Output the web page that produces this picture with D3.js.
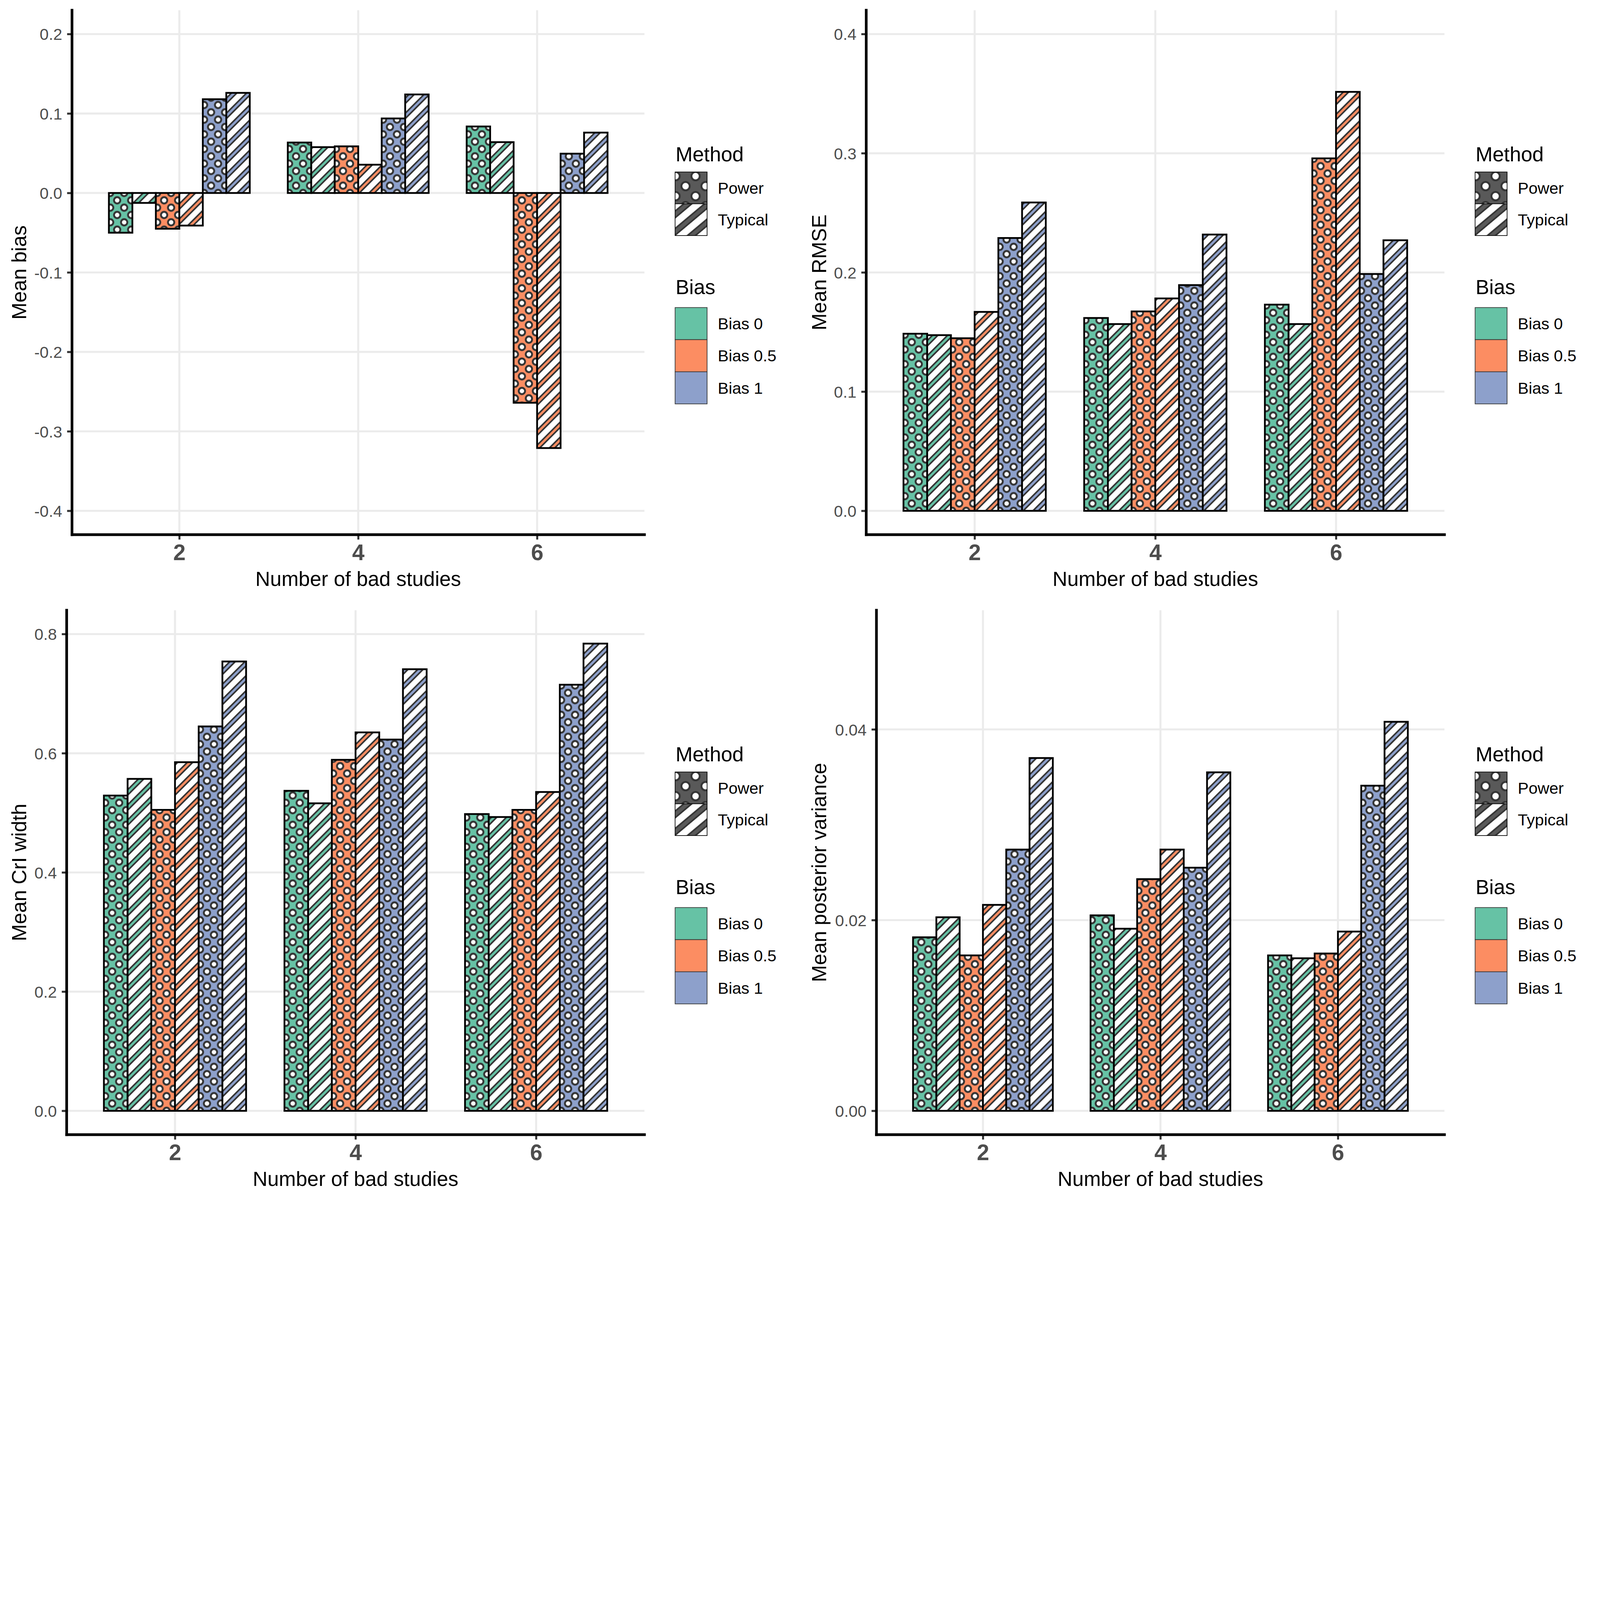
<!DOCTYPE html>
<html>
<head>
<meta charset="utf-8">
<script src="https://cdn.jsdelivr.net/npm/d3@7"></script>
<style>
  html, body { margin: 0; padding: 0; background: #fff; overflow: hidden; }
  svg { display: block; width: 100vw; height: 75vw; font-family: "Liberation Sans", Arial, sans-serif; }
</style>
</head>
<body>
<div id="chart"></div>
<script>
const badStudies = [2, 4, 6];
const biasLevels = ["Bias 0", "Bias 0.5", "Bias 1"];
const methods = ["Power", "Typical"];
const biasColours = ["#66C2A5", "#FC8D62", "#8DA0CB"];

// rows = bias level, columns = number of bad studies (2, 4, 6)
const biasPower = [[-0.050, 0.0635, 0.0837], [-0.045, 0.0587, -0.264], [0.118, 0.0938, 0.0495]];
const biasTypical = [[-0.0125, 0.0577, 0.064], [-0.041, 0.0356, -0.321], [0.126, 0.124, 0.076]];

const rmsePower = [[0.1486, 0.1618, 0.1730], [0.1448, 0.1673, 0.2957], [0.2289, 0.1894, 0.1987]];
const rmseTypical = [[0.1474, 0.1567, 0.1567], [0.1669, 0.1782, 0.3515], [0.2587, 0.2318, 0.2270]];

const criPower = [[0.529, 0.537, 0.498], [0.505, 0.589, 0.505], [0.645, 0.623, 0.715]];
const criTypical = [[0.557, 0.516, 0.493], [0.585, 0.635, 0.535], [0.754, 0.741, 0.784]];

const varPower = [[0.0182, 0.0205, 0.0163], [0.0163, 0.0243, 0.0165], [0.0274, 0.0255, 0.0341]];
const varTypical = [[0.0203, 0.0191, 0.0160], [0.0216, 0.0274, 0.0188], [0.0370, 0.0355, 0.0408]];

const yTitles = ["Mean bias", "Mean RMSE", "Mean CrI width", "Mean posterior variance"];
const yLimits = [[-0.4, 0.2], [0, 0.4], [0, 0.8], [0, 0.05]];
const yTicks = [
  [-0.4, -0.3, -0.2, -0.1, 0, 0.1, 0.2],
  [0, 0.1, 0.2, 0.3, 0.4],
  [0, 0.2, 0.4, 0.6, 0.8],
  [0, 0.02, 0.04]
];
const yTickLabels = [
  ["-0.4", "-0.3", "-0.2", "-0.1", "0.0", "0.1", "0.2"],
  ["0.0", "0.1", "0.2", "0.3", "0.4"],
  ["0.0", "0.2", "0.4", "0.6", "0.8"],
  ["0.00", "0.02", "0.04"]
];
const xTickLabels = ["2", "4", "6"];
const xTitle = "Number of bad studies";

const panels = [
  { power: biasPower, typical: biasTypical },
  { power: rmsePower, typical: rmseTypical },
  { power: criPower, typical: criTypical },
  { power: varPower, typical: varTypical }
];

// layout, in pixels of the 7200x5400 page
const cells = [[0, 0], [3600, 0], [0, 2700], [3600, 2700]];
const panelLeft = [324, 298, 300, 344];
const panelTop = 46, panelBottom = 2406, panelRight = 2900;
const xLimits = [0.8, 7.2];
const groupWidth = 1.575;
const barW = groupWidth / 6;

const svg = d3.select("#chart").append("svg")
  .attr("viewBox", "0 0 7200 5400")
  .attr("preserveAspectRatio", "xMinYMin meet");

svg.append("rect").attr("width", 7200).attr("height", 5400).attr("fill", "#fff");

const defs = svg.append("defs");

function dotPattern(id, bg, w, h, x, y, r) {
  const p = defs.append("pattern")
    .attr("id", id)
    .attr("patternUnits", "userSpaceOnUse")
    .attr("x", x).attr("y", y)
    .attr("width", w).attr("height", h);
  p.append("rect").attr("width", w).attr("height", h).attr("fill", bg);
  [[0, 0], [w, 0], [0, h], [w, h], [w / 2, h / 2]].forEach(c => {
    p.append("circle")
      .attr("cx", c[0]).attr("cy", c[1]).attr("r", r)
      .attr("fill", "#fff")
      .attr("stroke", "#333")
      .attr("stroke-width", 8.5);
  });
}

function stripePattern(id, bg, period, white, line, angle) {
  const p = defs.append("pattern")
    .attr("id", id)
    .attr("patternUnits", "userSpaceOnUse")
    .attr("width", period).attr("height", period)
    .attr("patternTransform", "rotate(" + (-angle) + ")");
  p.append("rect").attr("width", period).attr("height", period).attr("fill", bg);
  p.append("rect").attr("width", period).attr("height", white + 2 * line).attr("fill", "#333");
  p.append("rect").attr("y", line).attr("width", period).attr("height", white).attr("fill", "#fff");
}

biasColours.forEach((c, i) => {
  dotPattern("dots" + i, c, 63, 66, 5.75, 0, 14.25);
  stripePattern("stripes" + i, c, 48, 24, 7, 45);
});
dotPattern("keyDots", "#595959", 90, 90, 25, 27.7, 18.75);
stripePattern("keyStripes", "#595959", 60, 30, 7, 40);

function drawPanel(k) {
  const p = panels[k];
  const left = panelLeft[k];
  const g = svg.append("g").attr("transform", "translate(" + cells[k][0] + "," + cells[k][1] + ")");

  const lim = yLimits[k];
  const pad = (lim[1] - lim[0]) * 0.05;
  const y = d3.scaleLinear().domain([lim[0] - pad, lim[1] + pad]).range([panelBottom, panelTop]);
  const x = d3.scaleLinear().domain(xLimits).range([left, panelRight]);

  // grid
  g.append("g").selectAll("line").data(yTicks[k]).join("line")
    .attr("x1", left).attr("x2", panelRight)
    .attr("y1", d => y(d)).attr("y2", d => y(d))
    .attr("stroke", "#EBEBEB").attr("stroke-width", 9);
  g.append("g").selectAll("line").data(badStudies).join("line")
    .attr("x1", d => x(d)).attr("x2", d => x(d))
    .attr("y1", panelTop).attr("y2", panelBottom)
    .attr("stroke", "#EBEBEB").attr("stroke-width", 9);

  const bars = [];
  badStudies.forEach((n, gi) => {
    biasLevels.forEach((b, bi) => {
      methods.forEach((m, mi) => {
        bars.push({ n: n, bi: bi, mi: mi, slot: bi * 2 + mi, value: (mi === 0 ? p.power : p.typical)[bi][gi] });
      });
    });
  });

  const w = x(barW) - x(0);
  const y0 = y(0);
  const bar = g.append("g").selectAll("g").data(bars).join("g")
    .attr("transform", d => "translate(" + x(d.n - groupWidth / 2 + d.slot * barW) + "," + y0 + ")");
  bar.append("rect")
    .attr("width", w)
    .attr("y", d => Math.min(y(d.value), y0) - y0)
    .attr("height", d => Math.abs(y(d.value) - y0))
    .attr("fill", d => "url(#" + (d.mi === 0 ? "dots" : "stripes") + d.bi + ")")
    .attr("stroke", "#000")
    .attr("stroke-width", 8);

  // axes
  const yAxis = d3.axisLeft(y)
    .tickValues(yTicks[k])
    .tickFormat((d, i) => yTickLabels[k][i])
    .tickSize(22)
    .tickPadding(22);
  const ya = g.append("g").attr("transform", "translate(" + left + ",0)").call(yAxis);
  ya.select(".domain").remove();
  ya.selectAll(".tick line").attr("stroke", "#333").attr("stroke-width", 9);
  ya.selectAll(".tick text")
    .attr("dy", "0.36em")
    .attr("fill", "#4D4D4D")
    .style("font-size", "73px")
    .style("font-family", "Liberation Sans, Arial, sans-serif");

  const xAxis = d3.axisBottom(x)
    .tickValues(badStudies)
    .tickFormat((d, i) => xTickLabels[i])
    .tickSize(22)
    .tickPadding(21);
  const xa = g.append("g").attr("transform", "translate(0," + panelBottom + ")").call(xAxis);
  xa.select(".domain").remove();
  xa.selectAll(".tick line").attr("stroke", "#333").attr("stroke-width", 9);
  xa.selectAll(".tick text")
    .attr("fill", "#4D4D4D")
    .style("font-size", "100px")
    .style("font-weight", "bold")
    .style("font-family", "Liberation Sans, Arial, sans-serif");

  g.append("line")
    .attr("x1", left).attr("x2", left)
    .attr("y1", panelTop).attr("y2", panelBottom)
    .attr("stroke", "#000").attr("stroke-width", 12).attr("stroke-linecap", "square");
  g.append("line")
    .attr("x1", left).attr("x2", panelRight)
    .attr("y1", panelBottom).attr("y2", panelBottom)
    .attr("stroke", "#000").attr("stroke-width", 12).attr("stroke-linecap", "square");

  // titles
  g.append("text")
    .attr("transform", "translate(117," + (panelTop + panelBottom) / 2 + ") rotate(-90)")
    .attr("text-anchor", "middle")
    .style("font-size", "92px")
    .text(yTitles[k]);
  g.append("text")
    .attr("x", (left + panelRight) / 2)
    .attr("y", 2636)
    .attr("text-anchor", "middle")
    .style("font-size", "92px")
    .text(xTitle);

  drawLegend(g);
}

function drawLegend(g) {
  const kx = 3038, ks = 144, tx = 3230;
  g.append("text").attr("x", 3040).attr("y", 726).style("font-size", "92px").text("Method");
  methods.forEach((m, i) => {
    const top = 774 + i * 143;
    g.append("rect")
      .attr("x", kx).attr("y", top)
      .attr("width", ks).attr("height", 143)
      .attr("fill", i === 0 ? "url(#keyDots)" : "url(#keyStripes)")
      .attr("stroke", "#000").attr("stroke-width", 3);
    g.append("text").attr("x", tx).attr("y", top + 71.5 + 26).style("font-size", "73px").text(m);
  });

  g.append("text").attr("x", 3040).attr("y", 1324).style("font-size", "92px").text("Bias");
  biasLevels.forEach((b, i) => {
    const top = 1384 + i * 144.5;
    g.append("rect")
      .attr("x", kx).attr("y", top)
      .attr("width", ks).attr("height", 144.5)
      .attr("fill", biasColours[i])
      .attr("stroke", "#333").attr("stroke-width", 3);
    g.append("text").attr("x", tx).attr("y", top + 72 + 26).style("font-size", "73px").text(b);
  });
}

for (let k = 0; k < 4; k++) drawPanel(k);
</script>
</body>
</html>
